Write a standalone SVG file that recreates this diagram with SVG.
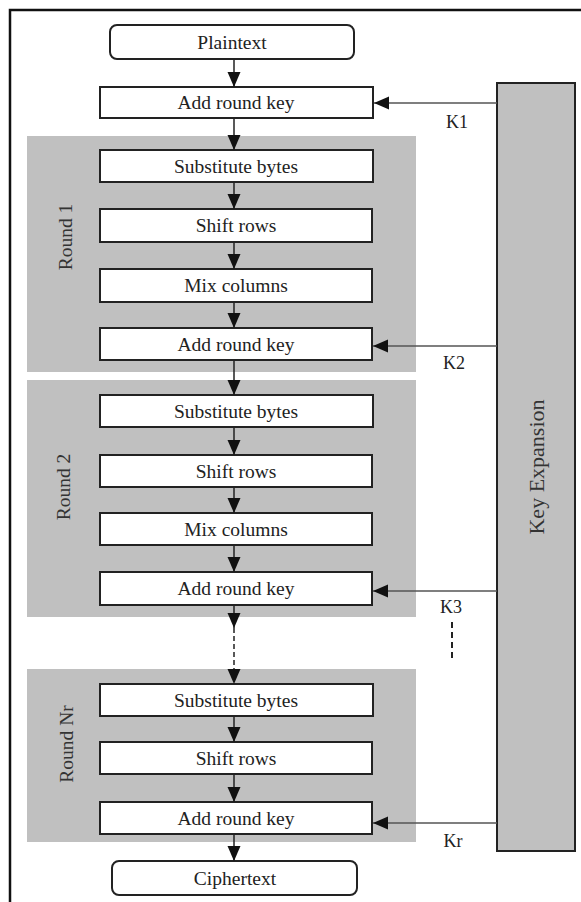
<svg xmlns="http://www.w3.org/2000/svg" width="581" height="902" viewBox="0 0 581 902">
<style>
  .frame { fill: none; stroke: #111; stroke-width: 2.5; }
  .round { fill: #c0c0c0; stroke: none; }
  .box { fill: #fff; stroke: #222; stroke-width: 2; }
  .kexp { fill: #c0c0c0; stroke: #222; stroke-width: 2; }
  .t { font-family: "Liberation Serif", "Times New Roman", serif; font-size: 19.5px; fill: #222; text-anchor: middle; dominant-baseline: central; }
  .lbl { font-family: "Liberation Serif", "Times New Roman", serif; font-size: 19.5px; fill: #333; text-anchor: middle; dominant-baseline: central; }
  .flow { fill: none; stroke: #222; stroke-width: 1.5; }
  .key { fill: none; stroke: #555; stroke-width: 1.3; }
  .dash { fill: none; stroke: #222; stroke-width: 1.5; stroke-dasharray: 5 3; }
</style>
<defs>
  <marker id="ah" markerUnits="userSpaceOnUse" markerWidth="17" markerHeight="14" refX="15" refY="6.5" orient="auto">
    <path d="M0,0 L15,6.5 L0,13 Z" fill="#111"/>
  </marker>
</defs>
<rect width="581" height="902" fill="#fff"/>
<rect class="frame" x="10" y="10" width="620" height="930"/>

<g id="round1"><rect class="round" x="27" y="136" width="389" height="236"/><text class="lbl" transform="translate(65,237) rotate(-90)">Round 1</text></g>
<g id="round2"><rect class="round" x="27" y="380" width="389" height="237"/><text class="lbl" transform="translate(63,487) rotate(-90)">Round 2</text></g>
<g id="roundNr"><rect class="round" x="27" y="669" width="389" height="173"/><text class="lbl" transform="translate(66,744) rotate(-90)">Round Nr</text></g>

<g id="keyexp"><rect class="kexp" x="497" y="83" width="78" height="768"/><text class="lbl" transform="translate(536,467) rotate(-90)" style="font-size:22px">Key Expansion</text></g>

<g id="plaintext"><rect class="box" x="110" y="25" width="244" height="34" rx="7"/><text class="t" x="232" y="42">Plaintext</text></g>
<g id="ark0"><rect class="box" x="100" y="87" width="273" height="31"/><text class="t" x="236" y="102">Add round key</text></g>

<g id="sub1"><rect class="box" x="100" y="150" width="273" height="32"/><text class="t" x="236" y="166">Substitute bytes</text></g>
<g id="shift1"><rect class="box" x="100" y="209" width="272" height="33"/><text class="t" x="236" y="225">Shift rows</text></g>
<g id="mix1"><rect class="box" x="100" y="269" width="272" height="33"/><text class="t" x="236" y="285">Mix columns</text></g>
<g id="ark1"><rect class="box" x="100" y="328" width="272" height="32"/><text class="t" x="236" y="344">Add round key</text></g>

<g id="sub2"><rect class="box" x="100" y="395" width="273" height="32"/><text class="t" x="236" y="411">Substitute bytes</text></g>
<g id="shift2"><rect class="box" x="100" y="455" width="272" height="32"/><text class="t" x="236" y="471">Shift rows</text></g>
<g id="mix2"><rect class="box" x="100" y="513" width="272" height="32"/><text class="t" x="236" y="529">Mix columns</text></g>
<g id="ark2"><rect class="box" x="100" y="572" width="272" height="33"/><text class="t" x="236" y="588">Add round key</text></g>

<g id="subNr"><rect class="box" x="100" y="684" width="273" height="32"/><text class="t" x="236" y="700">Substitute bytes</text></g>
<g id="shiftNr"><rect class="box" x="100" y="742" width="272" height="32"/><text class="t" x="236" y="758">Shift rows</text></g>
<g id="arkNr"><rect class="box" x="100" y="802" width="272" height="32"/><text class="t" x="236" y="818">Add round key</text></g>

<g id="ciphertext"><rect class="box" x="112" y="861" width="245" height="34" rx="7"/><text class="t" x="235" y="878">Ciphertext</text></g>

<g id="connectors">
  <line class="flow" x1="234" y1="59" x2="234" y2="87" marker-end="url(#ah)"/>
  <line class="flow" x1="234" y1="118" x2="234" y2="150" marker-end="url(#ah)"/>
  <line class="flow" x1="234" y1="182" x2="234" y2="209" marker-end="url(#ah)"/>
  <line class="flow" x1="234" y1="242" x2="234" y2="269" marker-end="url(#ah)"/>
  <line class="flow" x1="234" y1="302" x2="234" y2="328" marker-end="url(#ah)"/>
  <line class="flow" x1="234" y1="360" x2="234" y2="395" marker-end="url(#ah)"/>
  <line class="flow" x1="234" y1="427" x2="234" y2="455" marker-end="url(#ah)"/>
  <line class="flow" x1="234" y1="487" x2="234" y2="513" marker-end="url(#ah)"/>
  <line class="flow" x1="234" y1="545" x2="234" y2="572" marker-end="url(#ah)"/>
  <line class="flow" x1="234" y1="605" x2="234" y2="628" marker-end="url(#ah)"/>
  <line class="dash" x1="234" y1="628" x2="234" y2="684" marker-end="url(#ah)"/>
  <line class="flow" x1="234" y1="716" x2="234" y2="742" marker-end="url(#ah)"/>
  <line class="flow" x1="234" y1="774" x2="234" y2="802" marker-end="url(#ah)"/>
  <line class="flow" x1="234" y1="834" x2="234" y2="861" marker-end="url(#ah)"/>

  <line class="key" x1="497" y1="103" x2="374" y2="103" marker-end="url(#ah)"/>
  <line class="key" x1="497" y1="346" x2="373" y2="346" marker-end="url(#ah)"/>
  <line class="key" x1="497" y1="591" x2="373" y2="591" marker-end="url(#ah)"/>
  <line class="key" x1="497" y1="823" x2="373" y2="823" marker-end="url(#ah)"/>
  <line class="dash" x1="452" y1="622" x2="452" y2="661" style="stroke-dasharray:6 4;stroke-width:2"/>
</g>

<g id="keylabels">
  <text class="t" x="457" y="122" style="font-size:18px">K1</text>
  <text class="t" x="454" y="363" style="font-size:18px">K2</text>
  <text class="t" x="451" y="607" style="font-size:18px">K3</text>
  <text class="t" x="453" y="841" style="font-size:18px">Kr</text>
</g>
</svg>
